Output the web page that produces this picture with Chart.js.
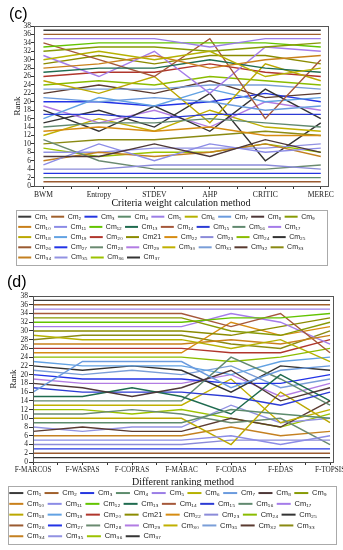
<!DOCTYPE html>
<html>
<head>
<meta charset="utf-8">
<script src="https://cdn.jsdelivr.net/npm/chart.js@4.4.1/dist/chart.umd.min.js"></script>
<style>
    body { margin: 0; background: #fff; width: 343px; height: 550px; overflow: hidden; }
    canvas { display: block; }
</style>
</head>
<body>
<canvas id="chartC" width="343" height="271"></canvas>
<canvas id="chartD" width="343" height="279"></canvas>
<script>
// Categories on the two x axes
const weightMethods = ["BWM", "Entropy", "STDEV", "AHP", "CRITIC", "MEREC"];
const rankingMethods = ["F-MARCOS", "F-WASPAS", "F-COPRAS", "F-MABAC", "F-CODAS", "F-EDAS", "F-TOPSIS"];

// Criteria names (Cm21 is printed without subscript in the original)
const criteria = [
    "Cm₁", "Cm₂", "Cm₃", "Cm₄", "Cm₅", "Cm₆", "Cm₇", "Cm₈", "Cm₉",
    "Cm₁₀", "Cm₁₁", "Cm₁₂", "Cm₁₃", "Cm₁₄", "Cm₁₅", "Cm₁₆", "Cm₁₇",
    "Cm₁₈", "Cm₁₉", "Cm₂₀", "Cm21", "Cm₂₂", "Cm₂₃", "Cm₂₄", "Cm₂₅",
    "Cm₂₆", "Cm₂₇", "Cm₂₈", "Cm₂₉", "Cm₃₀", "Cm₃₁", "Cm₃₂", "Cm₃₃",
    "Cm₃₄", "Cm₃₅", "Cm₃₆", "Cm₃₇"
];

const lineColors = [
    "#3b3b3b", "#a0602c", "#2536e0", "#5d8c6c", "#9b7ee6", "#b5b100", "#6b9bde", "#4e3838", "#879a05",
    "#c9801b", "#8c8ce6", "#63c400", "#1f6b4f", "#a5583a", "#2c3bd4", "#61896f", "#a57ce9",
    "#bba800", "#62a2e3", "#b0362c", "#8b8b00", "#d68c12", "#8b8bd9", "#8abc00", "#333333",
    "#9a5a30", "#2233e6", "#6a8a70", "#b27ce3", "#c0b000", "#7a9ed8", "#5a3a30", "#8a8a12",
    "#c48020", "#9292e2", "#9cc200", "#343434"
];

// (c) rank of each criterion under each weighting method
const ranksByWeight = [
    [37, 37, 37, 37, 37, 37],
    [36, 36, 36, 36, 36, 36],
    [3, 3, 3, 3, 3, 3],
    [2, 2, 2, 2, 2, 2],
    [35, 35, 35, 33, 35, 35],
    [30, 32, 30, 32, 26, 28],
    [21, 20, 21, 20, 18, 19],
    [7, 7, 10, 7, 11, 8],
    [32, 33, 33, 32, 33, 34],
    [28, 29, 31, 28, 30, 31],
    [5, 10, 6, 10, 8, 9],
    [33, 34, 34, 34, 34, 33],
    [27, 28, 28, 30, 28, 27],
    [34, 30, 26, 35, 16, 30],
    [17, 17, 16, 17, 17, 17],
    [14, 15, 15, 16, 15, 14],
    [31, 26, 32, 22, 33, 32],
    [25, 22, 26, 15, 29, 25],
    [16, 21, 19, 23, 20, 21],
    [26, 27, 27, 29, 27, 26],
    [29, 31, 29, 31, 31, 29],
    [13, 14, 13, 14, 12, 12],
    [4, 4, 5, 5, 5, 4],
    [24, 25, 24, 26, 25, 24],
    [18, 13, 19, 13, 23, 16],
    [1, 1, 1, 1, 1, 1],
    [20, 20, 19, 20, 22, 20],
    [11, 6, 4, 4, 4, 5],
    [19, 15, 18, 14, 20, 18],
    [12, 16, 13, 18, 14, 13],
    [23, 23, 23, 24, 24, 23],
    [22, 24, 22, 25, 21, 22],
    [10, 11, 11, 12, 13, 12],
    [6, 8, 7, 8, 10, 7],
    [8, 8, 9, 9, 9, 10],
    [9, 7, 8, 8, 10, 8],
    [15, 18, 14, 22, 6, 15]
];

// (d) rank of each criterion under each ranking method
const ranksByMethod = [
    [37, 37, 37, 37, 37, 37, 37],
    [36, 36, 36, 36, 36, 36, 36],
    [3, 3, 3, 3, 3, 3, 3],
    [9, 9, 9, 9, 12, 11, 10],
    [35, 35, 35, 35, 35, 35, 35],
    [29, 28, 28, 28, 26, 28, 23],
    [16, 23, 23, 23, 17, 21, 22],
    [18, 17, 15, 17, 21, 14, 17],
    [33, 33, 33, 33, 30, 29, 32],
    [27, 27, 27, 27, 28, 27, 29],
    [5, 5, 5, 5, 6, 4, 6],
    [32, 32, 32, 32, 33, 33, 34],
    [15, 15, 17, 15, 11, 20, 14],
    [34, 34, 34, 34, 31, 34, 25],
    [17, 16, 16, 16, 15, 13, 16],
    [14, 14, 14, 14, 24, 19, 13],
    [31, 31, 31, 31, 34, 32, 27],
    [10, 10, 10, 10, 4, 16, 9],
    [23, 22, 22, 22, 20, 23, 24],
    [26, 26, 26, 26, 25, 25, 28],
    [30, 30, 30, 30, 29, 31, 33],
    [25, 25, 25, 25, 32, 29, 31],
    [4, 4, 4, 4, 5, 5, 5],
    [24, 24, 24, 24, 23, 24, 26],
    [22, 21, 22, 21, 16, 22, 21],
    [2, 2, 2, 2, 2, 2, 2],
    [20, 19, 19, 19, 18, 18, 20],
    [11, 11, 12, 11, 9, 10, 4],
    [19, 18, 18, 18, 20, 15, 18],
    [13, 13, 13, 13, 19, 9, 12],
    [21, 20, 21, 20, 22, 17, 19],
    [7, 8, 7, 7, 10, 8, 14],
    [28, 29, 29, 29, 27, 26, 30],
    [6, 6, 6, 6, 8, 6, 7],
    [8, 7, 8, 8, 13, 9, 10],
    [12, 12, 11, 12, 10, 8, 11],
    [1, 1, 1, 1, 1, 1, 1]
];

const serif = '"Liberation Serif", "Times New Roman", serif';
const sans = '"Liberation Sans", Arial, sans-serif';

// Frame around the plot, border around the legend and the panel letter
const panelDecor = {
    id: "panelDecor",
    afterDraw(chart, args, opts) {
        const ctx = chart.ctx;
        const a = chart.chartArea;
        const lg = chart.legend;
        ctx.save();
        ctx.strokeStyle = "#555";
        ctx.lineWidth = 1;
        ctx.strokeRect(Math.round(a.left) + 0.5, Math.round(a.top) + 0.5,
            Math.round(a.width), Math.round(a.height));
        const rows = lg.lineWidths.length;
        const lh = opts.rowHeight;
        ctx.strokeStyle = "#aaa";
        ctx.strokeRect(Math.round(lg.left + opts.boxInset) + 0.5, Math.round(lg.top) + 0.5,
            Math.round(lg.width - 2 * opts.boxInset), Math.round(rows * lh + opts.boxExtra));
        ctx.fillStyle = "#000";
        ctx.font = "16px " + sans;
        ctx.textBaseline = "middle";
        ctx.fillText(opts.tag, opts.tagX, opts.tagY);
        ctx.restore();
    }
};

function makeDatasets(ranks) {
    return ranks.map((row, i) => ({
        label: criteria[i],
        data: row.map((r, j) => ({ x: j, y: r })),
        borderColor: lineColors[i],
        backgroundColor: lineColors[i],
        borderWidth: 1.4,
        pointRadius: 0,
        tension: 0,
        fill: false
    }));
}

function legendLabels(chart) {
    return Chart.defaults.plugins.legend.labels.generateLabels(chart)
        .map(l => Object.assign(l, { lineWidth: 0 }));
}

function createChart(canvasId, names, ranks, layout) {
    const chartConfig = {
        type: "line",
        data: { datasets: makeDatasets(ranks) },
        options: {
            responsive: false,
            animation: false,
            layout: { padding: layout.padding },
            plugins: {
                tooltip: { enabled: false },
                legend: {
                    position: "bottom",
                    align: "start",
                    labels: {
                        boxWidth: layout.boxWidth,
                        boxHeight: 2,
                        padding: layout.legendPadding,
                        color: "#222",
                        font: { family: sans, size: layout.legendFont },
                        generateLabels: legendLabels
                    }
                },
                panelDecor: {
                    tag: layout.tag, tagX: layout.tagX, tagY: layout.tagY,
                    rowHeight: layout.legendFont + layout.legendPadding,
                    boxInset: layout.boxInset, boxExtra: 4
                }
            },
            scales: {
                x: {
                    type: "linear",
                    min: layout.xMin,
                    max: layout.xMax,
                    border: { display: false },
                    grid: { drawOnChartArea: false, tickLength: 3, color: "#333" },
                    ticks: {
                        stepSize: 0.5,
                        includeBounds: false,
                        autoSkip: false,
                        maxRotation: 0,
                        padding: 1,
                        color: "#222",
                        font: { family: serif, size: layout.xFont },
                        callback: (v) => Number.isInteger(v) ? names[v] : ""
                    },
                    title: {
                        display: true,
                        text: layout.xTitle,
                        color: "#111",
                        font: { family: serif, size: 10, lineHeight: 1 },
                        padding: { top: 0, bottom: layout.xTitlePad }
                    },
                    afterFit: (s) => {
                        s.height = 24;
                        s.paddingLeft = 0;
                        s.paddingRight = layout.xPadRight;
                    }
                },
                y: {
                    min: 0,
                    max: 38,
                    border: { display: false },
                    grid: { drawOnChartArea: false, tickLength: layout.yTick, color: "#333" },
                    ticks: {
                        stepSize: 2,
                        autoSkip: false,
                        padding: layout.yTickPad,
                        color: "#222",
                        font: { family: serif, size: 7.5 }
                    },
                    title: {
                        display: true,
                        text: "Rank",
                        color: "#111",
                        font: { family: serif, size: 9, lineHeight: 1 },
                        padding: { top: layout.yTitlePad, bottom: 0 }
                    },
                    afterFit: (s) => {
                        s.width = layout.yWidth;
                        s.paddingTop = 0;
                        s.paddingBottom = 0;
                    }
                }
            }
        },
        plugins: [panelDecor]
    };
    new Chart(document.getElementById(canvasId), chartConfig);
}

createChart("chartC", weightMethods, ranksByWeight, {
    padding: { left: 15, right: 15, top: 26, bottom: 0 },
    boxWidth: 13, legendPadding: 3.2, legendFont: 7, boxInset: 1,
    tag: "(c)", tagX: 9, tagY: 15,
    xMin: -0.17, xMax: 5.13, xPadRight: 3, xFont: 7.6,
    xTitle: "Criteria weight calculation method", xTitlePad: 2,
    yWidth: 19, yTick: 3, yTickPad: 0, yTitlePad: -2
});

createChart("chartD", rankingMethods, ranksByMethod, {
    padding: { left: 6, right: 5, top: 25, bottom: 0 },
    boxWidth: 14, legendPadding: 3.3, legendFont: 7.5, boxInset: 2,
    tag: "(d)", tagX: 7, tagY: 12,
    xMin: 0, xMax: 6.06, xPadRight: 10, xFont: 7.2,
    xTitle: "Different ranking method", xTitlePad: -1,
    yWidth: 27, yTick: 4, yTickPad: 1, yTitlePad: 3
});
</script>
</body>
</html>
